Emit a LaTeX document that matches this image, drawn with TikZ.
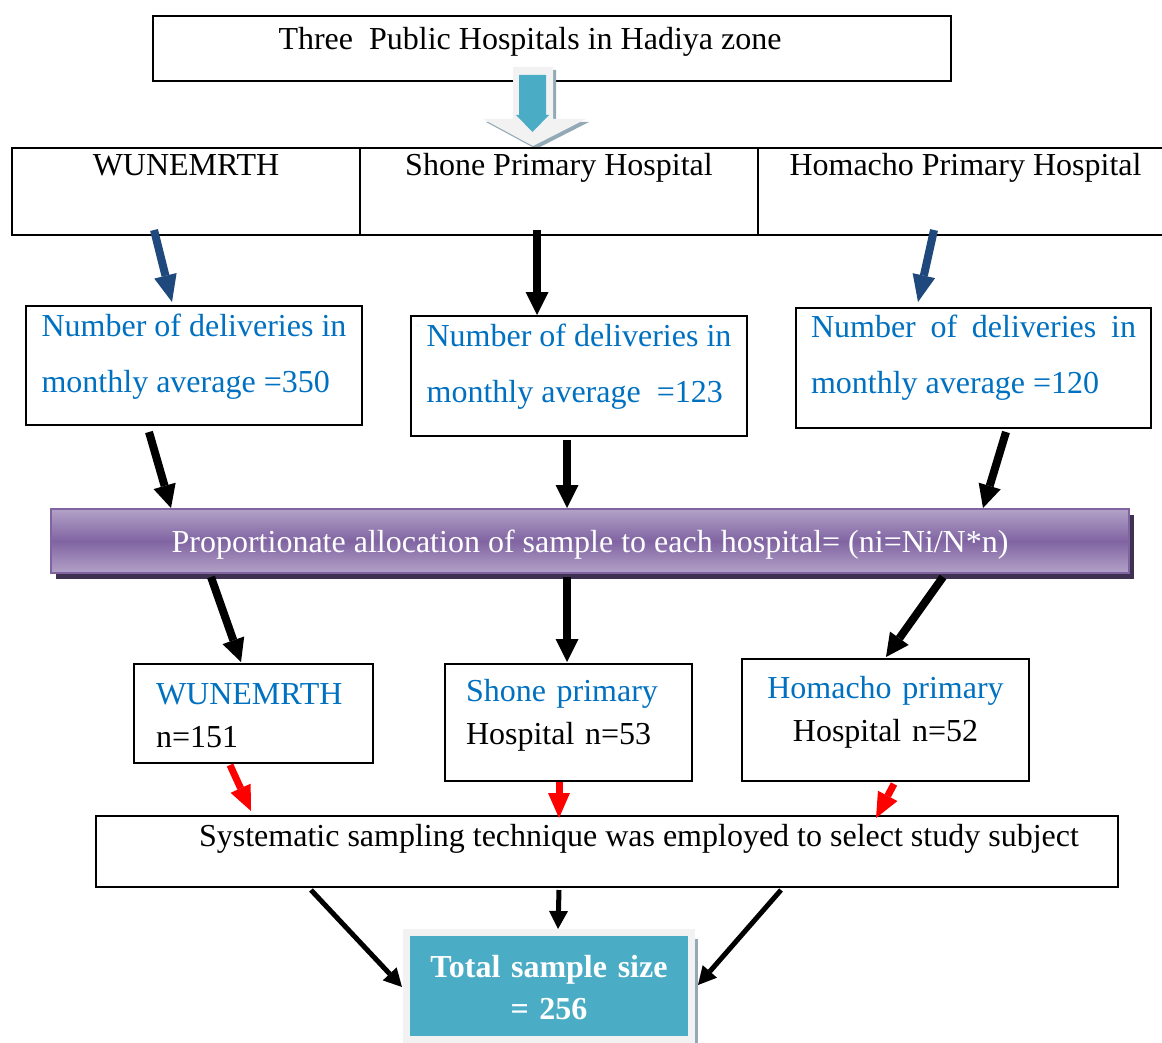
\documentclass[tikz,border=0pt]{standalone}
\usepackage{fontspec}
\setmainfont{Liberation Serif}
\usetikzlibrary{arrows.meta,shadows}

\definecolor{deepBlue}{HTML}{1F497D}
\definecolor{textBlue}{HTML}{0070C0}
\definecolor{purpleMid}{HTML}{8064A2}
\definecolor{purpleLight}{HTML}{B3A2C7}
\definecolor{purpleShadow}{HTML}{3F3151}
\definecolor{tealFill}{HTML}{4BACC6}
\definecolor{paleGray}{HTML}{F2F2F2}
\definecolor{steelShadow}{HTML}{93A9B5}

\begin{document}
\begin{tikzpicture}[x=1pt,y=-1pt,
  plainBox/.style={draw, line width=2pt, anchor=north west, inner xsep=0pt, inner ysep=0pt,
    text height=22pt, font=\fontsize{32}{56}\selectfont},
  countBox/.style={plainBox, text=textBlue, align=left, inner xsep=15pt, text height=78pt},
  splitBox/.style={plainBox, font=\fontsize{32}{43}\selectfont},
  blueArrow/.style={draw=deepBlue, line width=8pt, -{Triangle[length=27pt,width=23pt,line width=0pt]}},
  blackArrow/.style={draw=black, line width=8pt, -{Triangle[length=23pt,width=23pt,line width=0pt]}},
  redArrow/.style={draw=red, line width=7pt, -{Triangle[length=25pt,width=22pt,line width=0pt]}},
  thinArrow/.style={draw=black, line width=5pt, -{Triangle[length=18pt,width=19pt,line width=0pt]}}]

  \useasboundingbox (0,0) rectangle (1162,1043);

  %--- top box ---
  \node[plainBox, minimum width=798pt, minimum height=65pt, text depth=19pt] (top) at (152,15)
    {Three\ \ Public Hospitals in Hadiya zone\hspace*{44pt}};

  %--- big down arrow ---
  \fill[steelShadow] (516,70) -- (556,70) -- (556,122) -- (589,122) -- (536,149) -- (486,122) -- (516,122) -- cycle;
  \fill[paleGray] (513,67) -- (553,67) -- (553,119) -- (586,119) -- (533,146) -- (483,119) -- (513,119) -- cycle;
  \fill[tealFill] (519,75) -- (546,75) -- (546,115) -- (549,115) -- (532.5,132) -- (516,115) -- (519,115) -- cycle;

  %--- hospitals ---
  \node[plainBox, minimum width=348pt, minimum height=87pt, text depth=53pt] (hw) at (11,147)  {WUNEMRTH};
  \node[plainBox, minimum width=398pt, minimum height=87pt, text depth=53pt] (hs) at (359,147) {Shone Primary Hospital};
  \node[plainBox, minimum width=415pt, minimum height=87pt, text depth=53pt] (hh) at (757,147) {Homacho Primary Hospital};

  %--- monthly deliveries ---
  \node[countBox, minimum width=336pt, minimum height=119pt, text depth=25pt] (d1) at (25,305)
    {Number of deliveries in\\monthly average =350};
  \node[countBox, minimum width=336pt, minimum height=120pt, text depth=26pt] (d2) at (410,315)
    {Number of deliveries in\\monthly average\ \ =123};
  \node[countBox, align=justify, inner xsep=15pt, text width=325pt, minimum width=355pt,
        minimum height=120pt, text height=22pt, text depth=84pt] (d3) at (795,307)
    {\tolerance=9999 Number of deliveries in monthly average =120};

  \draw[blueArrow]  ([shift={(-32,-6)}]hw.south)   -- ([shift={(-22,-3)}]d1.north);
  \draw[blackArrow] ([shift={(-22,-6)}]hs.south)   -- ([shift={(-42,0)}]d2.north);
  \draw[blueArrow]  ([shift={(-31.5,-6)}]hh.south) -- ([shift={(-55.5,-5)}]d3.north);

  %--- allocation banner ---
  \node[plainBox, draw=purpleMid, top color=purpleLight, bottom color=purpleLight, middle color=purpleMid,
        drop shadow={shadow xshift=5pt, shadow yshift=-6pt, fill=purpleShadow, opacity=1},
        text=white, minimum width=1078pt, minimum height=64pt, text depth=0pt] (banner) at (50,508)
    {Proportionate allocation of sample to each hospital= (ni=Ni/N*n)};

  \draw[blackArrow] ([shift={(-45,6)}]d1.south)  -- ([shift={(-419,0)}]banner.north);
  \draw[blackArrow] ([shift={(-12,3)}]d2.south)  -- ([shift={(-23,0)}]banner.north);
  \draw[blackArrow] ([shift={(32.5,3)}]d3.south) -- ([shift={(393,0)}]banner.north);

  %--- sample per hospital ---
  \node[splitBox, align=left, inner xsep=22pt, text width=195pt, minimum width=239pt,
        minimum height=99pt, text depth=41pt] (lwA) at (133,663)
    {\textcolor{textBlue}{WUNEMRTH}\\n=151};
  \node[splitBox, align=left, inner xsep=21pt, text width=205pt, minimum width=247pt,
        minimum height=117pt, text depth=65pt] (lwB) at (444,663)
    {\textcolor{textBlue}{Shone primary}\\Hospital n=53};
  \node[splitBox, align=center, inner xsep=18.5pt, text width=250pt, minimum width=287pt,
        minimum height=122pt, text depth=66pt] (lwC) at (741,658)
    {\textcolor{textBlue}{Homacho primary}\\Hospital n=52};

  \draw[blackArrow] ([shift={(-379,3)}]banner.south) -- ([shift={(-12.5,-1)}]lwA.north);
  \draw[blackArrow] ([shift={(-23,3)}]banner.south)  -- ([shift={(-1.5,-1)}]lwB.north);
  \draw[blackArrow] ([shift={(353,3)}]banner.south)  -- ([shift={(0.5,-1)}]lwC.north);

  %--- systematic sampling ---
  \node[plainBox, minimum width=1022pt, minimum height=71pt, text depth=33pt] (sys) at (95,815)
    {\hspace*{64pt}Systematic sampling technique was employed to select study subject};

  \draw[redArrow] ([shift={(-23.5,1)}]lwA.south) -- ([shift={(-356,-4)}]sys.north);
  \draw[redArrow] ([shift={(-9.5,0)}]lwB.south)  -- ([shift={(-48,3)}]sys.north);
  \draw[redArrow] ([shift={(8.5,2)}]lwC.south)   -- ([shift={(269,3)}]sys.north);

  %--- total ---
  \node[draw=paleGray, line width=7pt, fill=tealFill, text=white, align=center, inner sep=0pt,
        drop shadow={shadow xshift=6.5pt, shadow yshift=-6.5pt, fill=steelShadow, opacity=1},
        text width=270pt, minimum width=285pt, minimum height=107pt, text height=22pt, text depth=40pt,
        font=\fontsize{32}{42}\selectfont\bfseries] (total) at (549,986)
    {Total sample size\\= 256};

  \draw[thinArrow] ([shift={(-296,2)}]sys.south) -- ([shift={(-1,1)}]total.west);
  \draw[thinArrow] ([shift={(-48,2)}]sys.south)  -- ([shift={(9,0)}]total.north);
  \draw[thinArrow] ([shift={(174,2)}]sys.south)  -- ([shift={(3,-1)}]total.east);

\end{tikzpicture}
\end{document}
